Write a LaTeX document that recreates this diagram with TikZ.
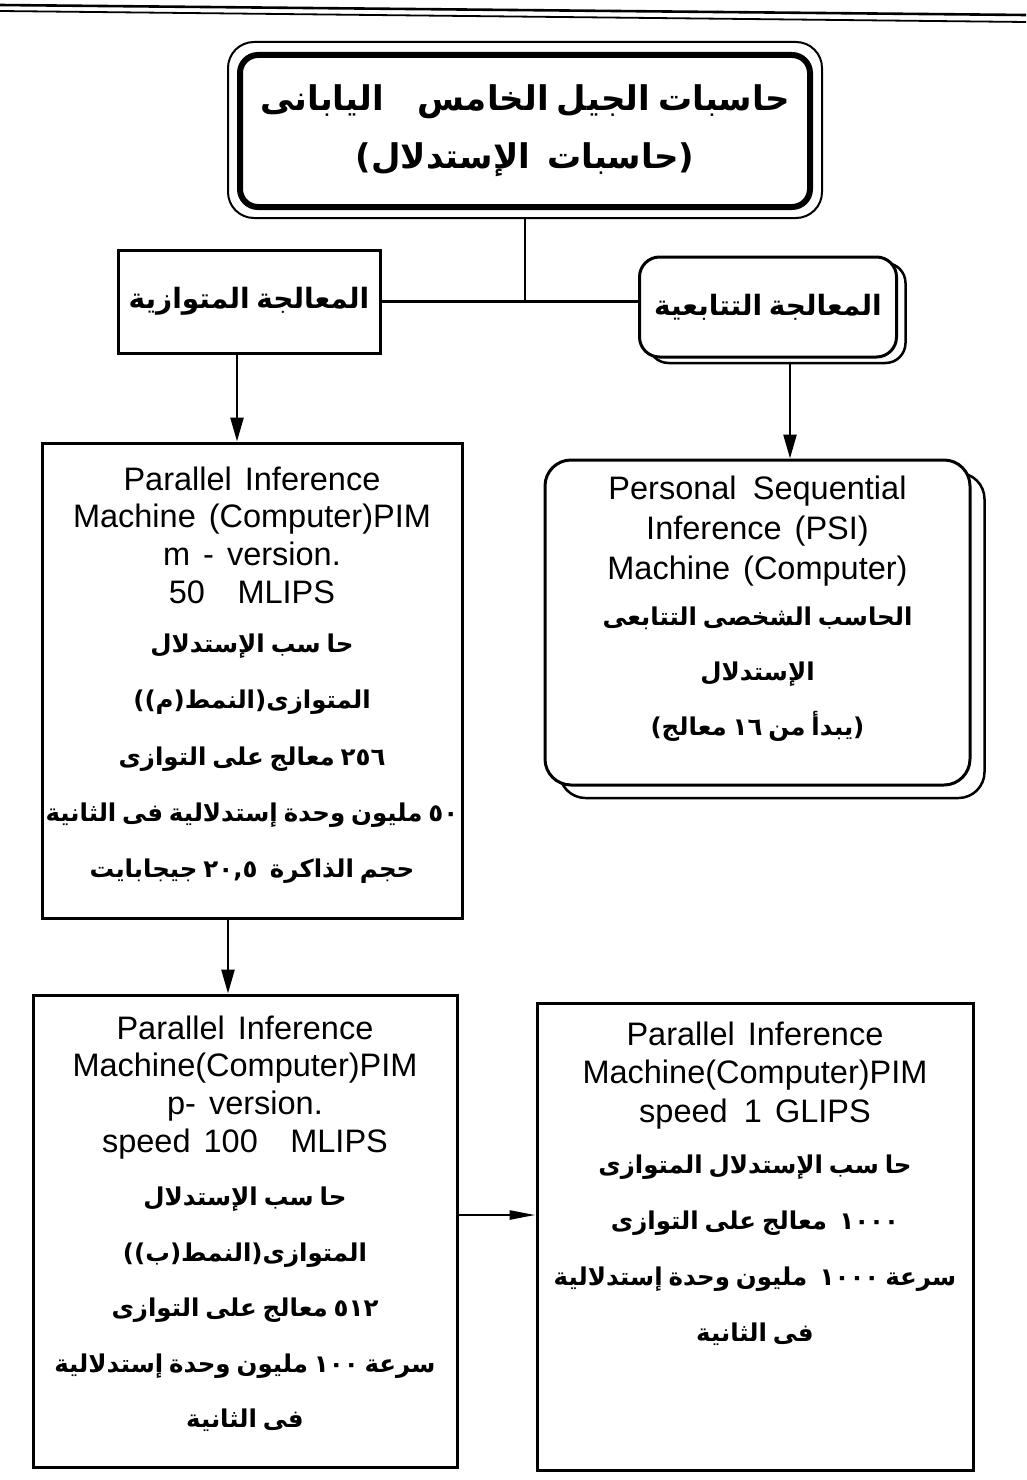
\documentclass[tikz,border=0pt]{standalone}
\usepackage{fontspec}
\setmainfont{Liberation Sans}
\newfontfamily\arabicfont[Script=Arabic]{DejaVu Sans}
\TeXXeTstate=1
\usetikzlibrary{arrows.meta}
\newcommand\ar[1]{{\arabicfont\bfseries\spaceskip=.24em\beginR #1\endR}}
\newcommand\latsz{\fontsize{32.5}{37.7}\selectfont\spaceskip=.4em\relax}
\tikzset{
  sqbox/.style={draw, line width=3pt, rectangle, inner sep=0pt, fill=white},
  rbox/.style={draw, line width=3pt, rounded corners=22pt, inner sep=0pt, fill=white},
  conn/.style={line width=2.5pt},
  arr/.style={line width=2.5pt, -{Triangle[length=24pt,width=13pt]}},
  harr/.style={line width=2.5pt, -{Triangle[length=26pt,width=9pt]}},
  txt/.style={anchor=north, text width=800pt, align=center, inner sep=0pt},
}
\begin{document}
\begin{tikzpicture}[x=1pt,y=-1pt]
\useasboundingbox (0,0) rectangle (1026,1480);
% header rules
\draw[line width=2.6pt] (0,5) -- (1026,15);
\draw[line width=1.8pt] (0,11) -- (1026,22);

% title
\node[draw, line width=2pt, rounded corners=26pt, minimum width=594pt, minimum height=176pt] (titleout) at (525,130) {};
\node[draw, line width=6pt, rounded corners=18pt, minimum width=570pt, minimum height=152pt] (titlein) at (525,131) {};
\node[txt, anchor=center] (titletxt) at (525,131)
  {\fontsize{34}{58}\selectfont \ar{حاسبات الجيل الخامس\quad اليابانى}\par
   \ar{(حاسبات\enspace الإستدلال)}\par};

% second level
\node[sqbox, minimum width=262pt, minimum height=103pt] (par) at (249,301.5)
  {\fontsize{28}{36}\selectfont\ar{المعالجة المتوازية}};
\node[rbox, line width=2.5pt, rounded corners=20pt, minimum width=257pt, minimum height=100pt] (seqsh) at (777,313) {};
\node[rbox, rounded corners=20pt, minimum width=257pt, minimum height=100pt] (seq) at (768,307)
  {\fontsize{28}{36}\selectfont\ar{المعالجة التتابعية}};

\coordinate (jn) at (525,301.5);
\draw[conn] (titleout.south) -- (jn);
\draw[conn] (par.east) -- (par.east -| seq.west);

% PIM m-version
\node[sqbox, minimum width=420pt, minimum height=475pt] (pimm) at (252,680.5) {};
\node[txt] (pimmtxt) at (252,466.4)
  {{\latsz Parallel Inference\par Machine (Computer)PIM\par m - version.\par 50\quad MLIPS\par}
   \fontsize{24.5}{56.3}\selectfont\vskip-7pt
   \ar{حا سب الإستدلال}\par
   \ar{المتوازى(النمط(م))}\par
   \ar{٢٥٦ معالج على التوازى}\par
   \ar{٥٠ مليون وحدة إستدلالية فى الثانية}\par
   \ar{حجم الذاكرة\enspace ٢٠,٥ جيجابايت}\par};

% PSI
\node[rbox, rounded corners=26pt, line width=2.5pt, minimum width=425pt, minimum height=325pt] (psish) at (772,635.5) {};
\node[rbox, rounded corners=26pt, minimum width=425pt, minimum height=325pt] (psi) at (757.5,622.5) {};
\node[txt] (psitxt) at (757.5,475.4)
  {{\latsz\baselineskip=40pt Personal\enspace Sequential\par Inference (PSI)\par Machine (Computer)\par}
   \fontsize{24.5}{55}\selectfont\vskip-9pt
   \ar{الحاسب الشخصى التتابعى}\par
   \ar{الإستدلال}\par
   \ar{(يبدأ من ١٦ معالج)}\par};

\draw[arr] ([xshift=-12pt]par.south) -- ([xshift=-12pt]par.south |- pimm.north);
\draw[arr] ([xshift=13pt]seqsh.south) -- ([xshift=13pt]seqsh.south |- psi.north);

% PIM p-version
\node[sqbox, minimum width=424pt, minimum height=472pt] (pimp) at (245,1231) {};
\node[txt] (pimptxt) at (245,1015.4)
  {{\latsz Parallel Inference\par Machine(Computer)PIM\par p- version.\par speed 100\quad MLIPS\par}
   \fontsize{24.5}{55.5}\selectfont\vskip-2pt
   \ar{حا سب الإستدلال}\par
   \ar{المتوازى(النمط(ب))}\par
   \ar{٥١٢ معالج على التوازى}\par
   \ar{سرعة ١٠٠ مليون وحدة إستدلالية}\par
   \ar{فى الثانية}\par};

% PIM 1 GLIPS
\node[sqbox, minimum width=436pt, minimum height=467pt] (glips) at (755,1236.5) {};
\node[txt] (glipstxt) at (755,1021.4)
  {{\latsz\baselineskip=38.5pt Parallel Inference\par Machine(Computer)PIM\par speed\enspace 1 GLIPS\par}
   \fontsize{24.5}{56}\selectfont\vskip-5pt
   \ar{حا سب الإستدلال المتوازى}\par
   \ar{١٠٠٠\enspace معالج على التوازى}\par
   \ar{سرعة ١٠٠٠\enspace مليون وحدة إستدلالية}\par
   \ar{فى الثانية}\par};

\draw[arr] ([xshift=-24pt]pimm.south) -- ([xshift=-24pt]pimm.south |- pimp.north);
\draw[harr] ([yshift=16pt]pimp.east) -- ([yshift=16pt]pimp.east -| glips.west);
\end{tikzpicture}
\end{document}
